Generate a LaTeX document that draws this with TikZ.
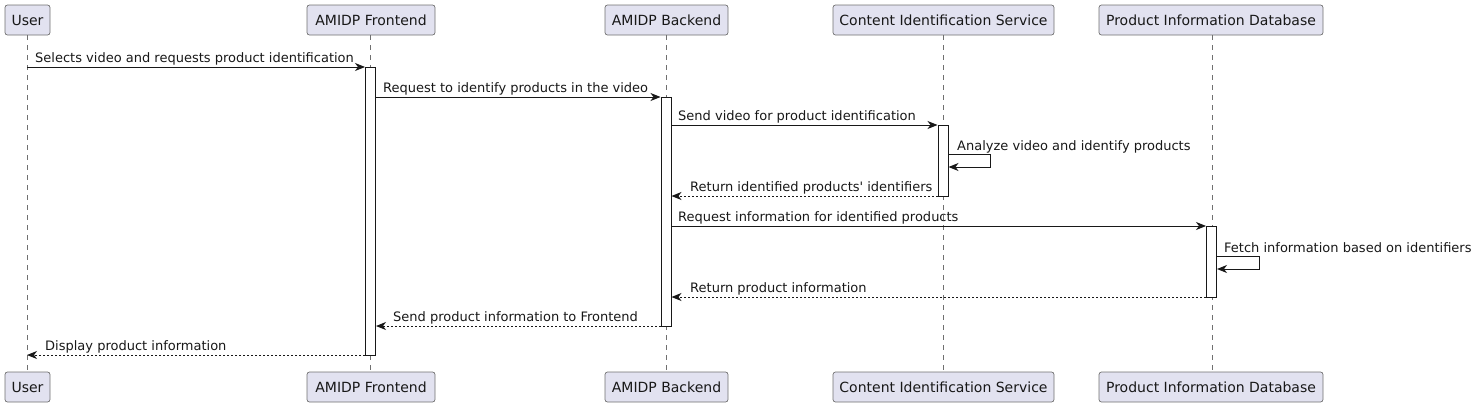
\documentclass[tikz,border=0pt]{standalone}
\usepackage{fontspec}
\setmainfont{DejaVu Sans}
\usetikzlibrary{arrows.meta}
\definecolor{pfill}{HTML}{E2E2F0}
\definecolor{ink}{HTML}{181818}
\definecolor{thin}{HTML}{707070}
\begin{document}
\begin{tikzpicture}[x=1pt,y=-1pt,
  part/.style={draw=thin, line width=0.7pt, fill=pfill, rounded corners=2.5pt,
    font=\fontsize{14}{16}\selectfont, text=ink, minimum height=30pt, inner sep=0pt},
  life/.style={draw=thin, line width=0.7pt, dash pattern=on 5pt off 5pt},
  act/.style={draw=ink, line width=1pt, fill=white, minimum width=10pt, inner sep=0pt},
  msg/.style={draw=ink, line width=1pt, -{Stealth[length=10pt,width=8pt,inset=3pt]}},
  ret/.style={msg, dash pattern=on 2pt off 2pt},
  lbl/.style={anchor=base west, inner sep=0pt, font=\fontsize{13}{15}\selectfont, text=ink}]
\useasboundingbox (0,0) rectangle (1477,407);

% participants
\node[part, minimum width=45pt]  (u1) at (27.5,20) {User};
\node[part, minimum width=128pt] (f1) at (371,20) {AMIDP Frontend};
\node[part, minimum width=123pt] (b1) at (666.5,20) {AMIDP Backend};
\node[part, minimum width=221pt] (c1) at (943.5,20) {Content Identification Service};
\node[part, minimum width=224pt] (p1) at (1211,20) {Product Information Database};
\node[part, minimum width=45pt]  (u2) at (27.5,387) {User};
\node[part, minimum width=128pt] (f2) at (371,387) {AMIDP Frontend};
\node[part, minimum width=123pt] (b2) at (666.5,387) {AMIDP Backend};
\node[part, minimum width=221pt] (c2) at (943.5,387) {Content Identification Service};
\node[part, minimum width=224pt] (p2) at (1211,387) {Product Information Database};

% lifelines
\draw[life] (27,35) coordinate (ul1) -- (27,372) coordinate (ul2);
\draw[life] (370,35) coordinate (fl1) -- (370,372) coordinate (fl2);
\draw[life] (666,35) coordinate (bl1) -- (666,372) coordinate (bl2);
\draw[life] (943,35) coordinate (cl1) -- (943,372) coordinate (cl2);
\draw[life] (1212,35) coordinate (pl1) -- (1212,372) coordinate (pl2);

% activations
\node[act, minimum height=288pt] (af) at (370.5,211) {};
\node[act, minimum height=229pt] (ab) at (666,211.5) {};
\node[act, minimum height=71pt]  (ac) at (943,160.5) {};
\node[act, minimum height=71pt]  (ap) at (1211.5,261.5) {};

% messages
\draw[msg] (ul1 |- 0,67) -- (af.west |- 0,67);
\node[lbl] (t1) at (35,62.5) {Selects video and requests product identification};

\draw[msg] (af.east |- 0,97) -- (ab.west |- 0,97);
\node[lbl] (t2) at (383,92.5) {Request to identify products in the video};

\draw[msg] (ab.east |- 0,125) -- (ac.west |- 0,125);
\node[lbl] (t3) at (678,120.5) {Send video for product identification};

\draw[msg] (ac.east |- 0,154) -- ++(42,0) -- ++(0,13) -- (ac.east |- 0,167);
\node[lbl] (t4) at (957,150) {Analyze video and identify products};

\draw[ret] (ac.west |- 0,196) -- (ab.east |- 0,196);
\node[lbl] (t5) at (690,191.5) {Return identified products\textquotesingle\ identifiers};

\draw[msg] (ab.east |- 0,226) -- (ap.west |- 0,226);
\node[lbl] (t6) at (678,221.5) {Request information for identified products};

\draw[msg] (ap.east |- 0,256) -- ++(42,0) -- ++(0,13) -- (ap.east |- 0,269);
\node[lbl] (t7) at (1224,252) {Fetch information based on identifiers};

\draw[ret] (ap.west |- 0,297) -- (ab.east |- 0,297);
\node[lbl] (t8) at (690,292.5) {Return product information};

\draw[ret] (ab.west |- 0,326) -- (af.east |- 0,326);
\node[lbl] (t9) at (393,321.5) {Send product information to Frontend};

\draw[ret] (af.west |- 0,355) -- (ul1 |- 0,355);
\node[lbl] (t10) at (45,350.5) {Display product information};
\end{tikzpicture}
\end{document}
